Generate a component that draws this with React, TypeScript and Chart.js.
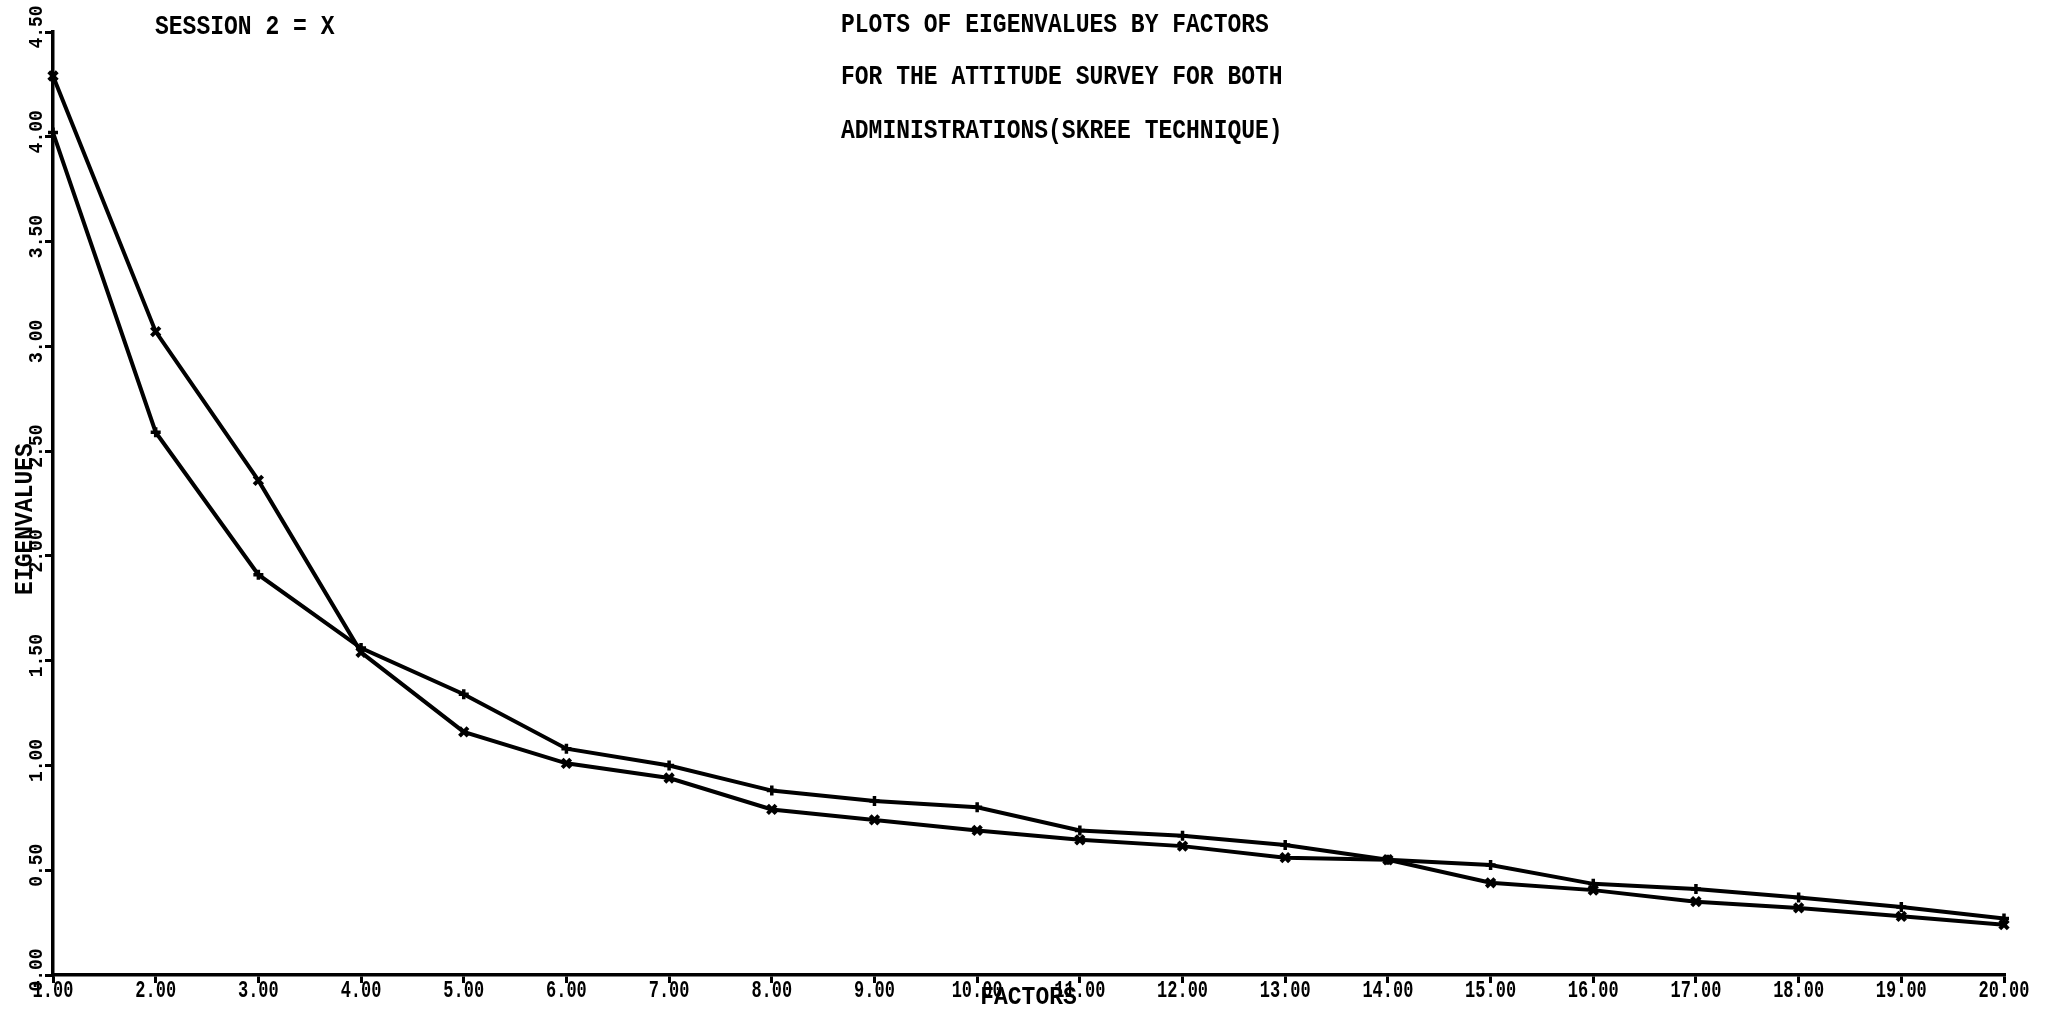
import { useEffect, useRef } from "react";
import { Chart, registerables } from "chart.js";

Chart.register(...registerables);

// ---- data ----
const factors = [1, 2, 3, 4, 5, 6, 7, 8, 9, 10, 11, 12, 13, 14, 15, 16, 17, 18, 19, 20];
const seriesCross = [4.29, 3.07, 2.36, 1.54, 1.16, 1.01, 0.94, 0.79, 0.74, 0.69, 0.645, 0.615, 0.56, 0.55, 0.44, 0.405, 0.35, 0.32, 0.28, 0.24];
const seriesPlus = [4.02, 2.59, 1.91, 1.56, 1.34, 1.08, 1.0, 0.88, 0.83, 0.8, 0.69, 0.665, 0.62, 0.55, 0.525, 0.435, 0.41, 0.37, 0.325, 0.27];
const xTickLabels = ["1.00", "2.00", "3.00", "4.00", "5.00", "6.00", "7.00", "8.00", "9.00", "10.00", "11.00", "12.00", "13.00", "14.00", "15.00", "16.00", "17.00", "18.00", "19.00", "20.00"];
const yTickValues = [0, 0.5, 1, 1.5, 2, 2.5, 3, 3.5, 4, 4.5];
const yTickLabels = ["0.00", "0.50", "1.00", "1.50", "2.00", "2.50", "3.00", "3.50", "4.00", "4.50"];
const titleLines = [
  "PLOTS OF EIGENVALUES BY FACTORS",
  "FOR THE ATTITUDE SURVEY FOR BOTH",
  "ADMINISTRATIONS(SKREE TECHNIQUE)",
];
const sessionLabel = "SESSION 2 = X";
const xAxisTitle = "FACTORS";
const yAxisTitle = "EIGENVALUES";

const FONT = "'Liberation Mono', 'DejaVu Sans Mono', monospace";

function drawText(
  ctx: CanvasRenderingContext2D,
  text: string,
  x: number,
  y: number,
  font: string,
  align: CanvasTextAlign,
  stretchY: number,
  rotation: number
) {
  ctx.save();
  ctx.translate(x, y);
  if (rotation) ctx.rotate(rotation);
  ctx.scale(1, stretchY);
  ctx.font = font;
  ctx.textAlign = align;
  ctx.textBaseline = "middle";
  ctx.fillStyle = "#000";
  ctx.fillText(text, 0, 0);
  ctx.restore();
}

const textPlugin = {
  id: "oldPlotText",
  afterDraw(chart: any) {
    const ctx: CanvasRenderingContext2D = chart.ctx;
    const xs = chart.scales.x;
    const ys = chart.scales.y;
    const tickFont = `bold 17px ${FONT}`;
    factors.forEach((f, i) => {
      drawText(ctx, xTickLabels[i], xs.getPixelForValue(f), 991, tickFont, "center", 1.45, 0);
    });
    const yTickFont = `bold 18px ${FONT}`;
    yTickValues.forEach((v, i) => {
      drawText(ctx, yTickLabels[i], 37, ys.getPixelForValue(v) - 5, yTickFont, "center", 1.1, -Math.PI / 2);
    });
    const bigFont = `bold 23px ${FONT}`;
    drawText(ctx, xAxisTitle, (xs.left + xs.right) / 2, 997, bigFont, "center", 1.15, 0);
    drawText(ctx, yAxisTitle, 26, 519, bigFont, "center", 1.1, -Math.PI / 2);
    drawText(ctx, sessionLabel, 155, 27, bigFont, "left", 1.2, 0);
    const titleY = [25, 77, 131];
    titleLines.forEach((t, i) => {
      drawText(ctx, t, 841, titleY[i], bigFont, "left", 1.2, 0);
    });
  },
};

export default function App() {
  const ref = useRef<HTMLCanvasElement | null>(null);

  useEffect(() => {
    document.body.style.margin = "0";
    document.body.style.background = "#fff";
    const canvas = ref.current;
    if (!canvas) return;
    const axisGrid = {
      display: true,
      drawOnChartArea: false,
      drawTicks: true,
      tickLength: 8,
      color: "#000",
      lineWidth: 3,
    };
    const axisBorder = { display: true, color: "#000", width: 3.5 };
    const chart = new Chart(canvas, {
      type: "line",
      data: {
        datasets: [
          {
            label: "X",
            data: factors.map((f, i) => ({ x: f, y: seriesCross[i] })),
            borderColor: "#000",
            backgroundColor: "#000",
            borderWidth: 4,
            pointStyle: "crossRot",
            pointRadius: 6,
            pointBorderWidth: 4,
            pointBorderColor: "#000",
            pointBackgroundColor: "#000",
            tension: 0,
            fill: false,
            clip: false,
          },
          {
            label: "+",
            data: factors.map((f, i) => ({ x: f, y: seriesPlus[i] })),
            borderColor: "#000",
            backgroundColor: "#000",
            borderWidth: 4,
            pointStyle: "cross",
            pointRadius: 5,
            pointBorderWidth: 3.5,
            pointBorderColor: "#000",
            pointBackgroundColor: "#000",
            tension: 0,
            fill: false,
            clip: false,
          },
        ],
      },
      options: {
        responsive: false,
        animation: false,
        devicePixelRatio: 1,
        layout: { padding: { left: 45, right: 57, top: 32, bottom: 26 } },
        plugins: {
          legend: { display: false },
          tooltip: { enabled: false },
          title: { display: false },
        },
        scales: {
          x: {
            type: "linear",
            min: 1,
            max: 20,
            ticks: { display: false, stepSize: 1 },
            grid: axisGrid,
            border: axisBorder,
          },
          y: {
            type: "linear",
            min: 0,
            max: 4.5,
            ticks: { display: false, stepSize: 0.5 },
            grid: axisGrid,
            border: axisBorder,
          },
        },
      } as any,
      plugins: [textPlugin],
    });
    return () => chart.destroy();
  }, []);

  return (
    <canvas
      ref={ref}
      width={2061}
      height={1009}
      style={{ display: "block", width: 2061, height: 1009 }}
    />
  );
}
